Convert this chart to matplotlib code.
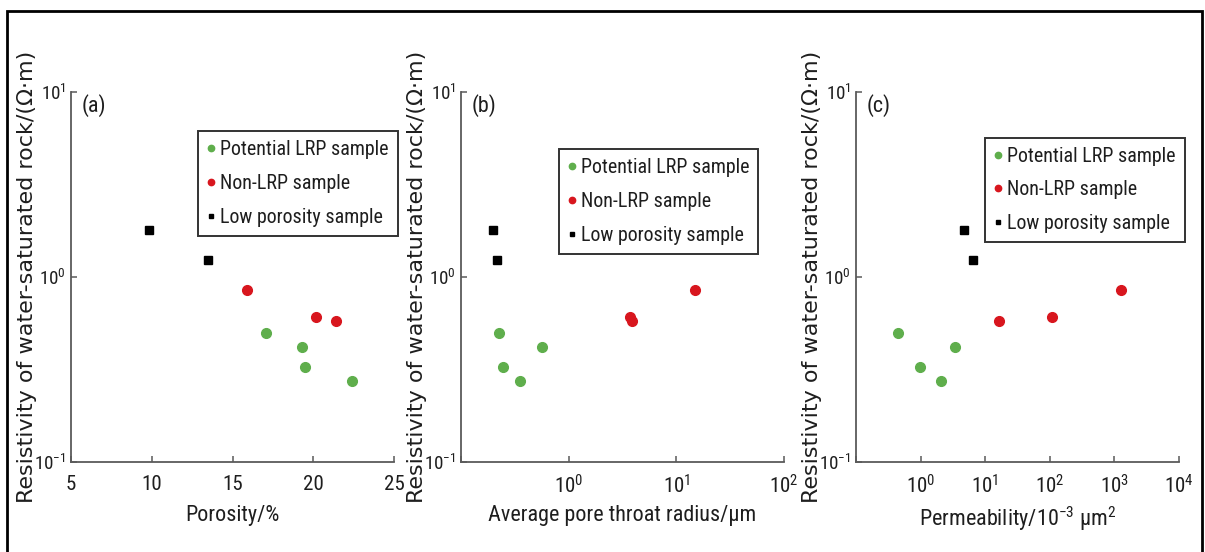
import matplotlib
matplotlib.use('Agg')
import matplotlib.pyplot as plt
from matplotlib import font_manager
from matplotlib.font_manager import FontProperties
from matplotlib.textpath import TextPath
from matplotlib.patches import Rectangle

# 字体: 原图横向文字被压缩, 有窄体就用窄体
narrow = 'Liberation Sans'
stretch = 'normal'
for f in font_manager.fontManager.ttflist:
    if f.stretch == 'condensed' and f.style == 'normal' and f.weight in (400, 'normal', 'regular'):
        if any(n in f.name for n in ['Liberation', 'Roboto', 'Arimo', 'Open Sans', 'Noto Sans']):
            narrow, stretch = f.name, 'condensed'
            break
plt.rcParams['font.family'] = [narrow, 'DejaVu Sans']
plt.rcParams['font.stretch'] = stretch
plt.rcParams['axes.unicode_minus'] = False

# 按原图图例文字宽度(约167px)确定字号
fp = FontProperties(family=narrow, stretch=stretch)
w10 = TextPath((0, 0), 'Potential LRP sample', size=10, prop=fp).get_extents().width
base = 10 * (167 * 0.72) / w10

###############################################################################
# 数据
# Potential LRP sample (绿)
lrp_res = [0.50, 0.42, 0.325, 0.274]
lrp_por = [17.1, 19.3, 19.5, 22.4]
lrp_rad = [0.225, 0.56, 0.247, 0.356]
lrp_perm = [0.45, 3.4, 0.98, 2.05]

# Non-LRP sample (红)
non_res = [0.85, 0.61, 0.58]
non_por = [15.9, 20.2, 21.4]
non_rad = [14.8, 3.7, 3.9]
non_perm = [1250, 110, 16.5]

# Low porosity sample (黑)
low_res = [1.79, 1.23]
low_por = [9.8, 13.5]
low_rad = [0.197, 0.216]
low_perm = [4.75, 6.4]

labels = ['Potential LRP sample', 'Non-LRP sample', 'Low porosity sample']
xlabels = ['Porosity/%', 'Average pore throat radius/\u03bcm',
           'Permeability/10$^{\\mathdefault{-3}}$ \u03bcm$^{\\mathdefault{2}}$']
tags = ['(a)', '(b)', '(c)']
ylabel = 'Resistivity of water-saturated rock/(\u03a9\u00b7m)'

green = '#5fae4c'
red = '#d8161e'
spine = '#5a5a5a'
txt = '#1e1e1e'

def pw(e):
    return '$\\mathdefault{10^{%d}}$' % e

###############################################################################
fig = plt.figure(figsize=(12.05, 5.52), dpi=100)
W, H = 1205.0, 552.0

# 外框
fig.patches.append(Rectangle((6.5 / W, -0.02), (1202 - 6.5) / W, (541 + 11) / H,
                             transform=fig.transFigure, fill=False,
                             edgecolor='black', linewidth=2.0))

lefts = [71, 461, 856]
leg_pos = [(0.394, 0.895), (0.303, 0.845), (0.40, 0.877)]
xs = [(lrp_por, non_por, low_por), (lrp_rad, non_rad, low_rad),
      (lrp_perm, non_perm, low_perm)]
F = base / 0.72  # 图例字号(px)

for i in range(3):
    ax = fig.add_axes([lefts[i] / W, 90 / H, 323 / W, 370 / H])
    xg, xr, xb = xs[i]
    ax.plot(xg, lrp_res, 'o', color=green, markersize=7, mec=green, label=labels[0])
    ax.plot(xr, non_res, 'o', color=red, markersize=7, mec=red, label=labels[1])
    ax.plot(xb, low_res, 's', color='black', markersize=5.5, label=labels[2])

    ax.set_yscale('log')
    ax.set_ylim(0.1, 10)
    ax.set_yticks([0.1, 1, 10])
    ax.set_yticklabels([pw(-1), pw(0), pw(1)])
    if i == 0:
        ax.set_xlim(5, 25)
        ax.set_xticks([5, 10, 15, 20, 25])
    elif i == 1:
        ax.set_xscale('log')
        ax.set_xlim(0.1, 100)
        ax.set_xticks([0.1, 1, 10, 100])
        ax.set_xticklabels([''] + [pw(e) for e in range(0, 3)])
    else:
        ax.set_xscale('log')
        ax.set_xlim(0.1, 1e4)
        ax.set_xticks([0.1, 1, 10, 100, 1e3, 1e4])
        ax.set_xticklabels([''] + [pw(e) for e in range(0, 5)])
    ax.minorticks_off()

    for s in ['top', 'right']:
        ax.spines[s].set_visible(False)
    for s in ['left', 'bottom']:
        ax.spines[s].set_color(spine)
        ax.spines[s].set_linewidth(1.3)
    ax.tick_params(direction='in', length=4, width=1.1, color=spine, labelcolor=txt)
    ax.tick_params(axis='x', pad=9, labelsize=base * 1.05)
    ax.tick_params(axis='y', pad=3.5, labelsize=base * 0.95)

    ax.set_xlabel(xlabels[i], fontsize=base * 1.1, color=txt)
    ax.xaxis.set_label_coords(0.5, -0.115)
    ax.set_ylabel(ylabel, fontsize=16, family=['DejaVu Sans'], stretch='normal',
                  color=txt)
    ax.yaxis.set_label_coords(-0.105, 0.5)
    ax.text(11 / 323, 0.995, tags[i], transform=ax.transAxes, ha='left', va='top',
            fontsize=base * 1.1, color=txt)

    leg = ax.legend(loc='upper left', bbox_to_anchor=leg_pos[i], borderaxespad=0,
                    fontsize=base, frameon=True, fancybox=False, framealpha=1,
                    edgecolor='#333333', markerscale=0.65, handlelength=0.4,
                    handletextpad=0.25, labelspacing=(38 - 1.15 * F) / F,
                    borderpad=0.45)
    leg.get_frame().set_linewidth(1.4)
    for t in leg.get_texts():
        t.set_color(txt)

fig.savefig('out.png', dpi=100)
